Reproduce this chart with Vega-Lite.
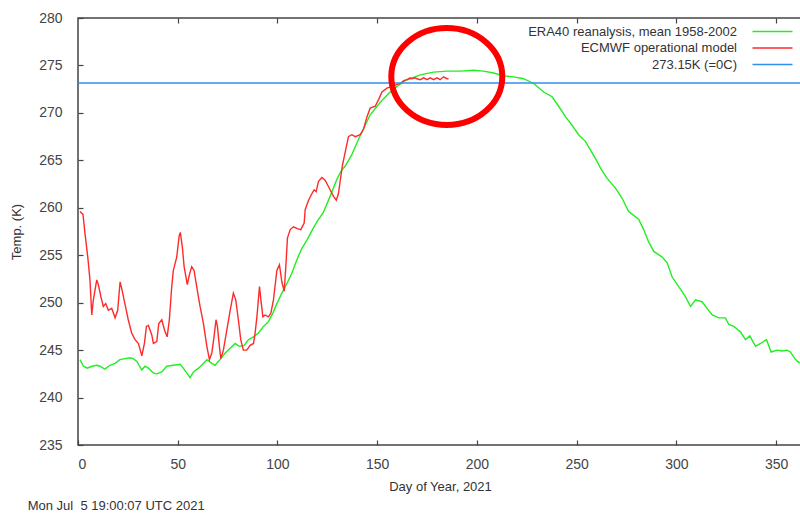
{
  "$schema": "https://vega.github.io/schema/vega-lite/v6.json",
  "width": 724,
  "height": 427,
  "autosize": {"type": "none"},
  "padding": {"left": 78, "top": 18, "right": 0, "bottom": 68},
  "background": "white",
  "title": {
    "text": "Mon Jul\u00a0 5 19:00:07 UTC 2021",
    "orient": "bottom",
    "anchor": "start",
    "frame": "bounds",
    "font": "Liberation Sans",
    "fontSize": 13,
    "fontWeight": "normal",
    "color": "#333",
    "offset": 7,
    "dx": 17
  },
  "config": {
    "font": "Liberation Sans",
    "view": {"stroke": "#444", "strokeWidth": 1.5},
    "axis": {
      "grid": false,
      "domainColor": "#444",
      "domainWidth": 1.5,
      "tickColor": "#444",
      "tickWidth": 1.2,
      "tickSize": -5,
      "labelColor": "#444",
      "labelFont": "Liberation Sans",
      "labelFontSize": 14,
      "titleColor": "#333",
      "titleFont": "Liberation Sans",
      "titleFontSize": 13,
      "titleFontWeight": "normal"
    }
  },
  "datasets": {
    "era": [
      {"d":1,"t":244.0},{"d":2.7,"t":243.3},{"d":4.7,"t":243.1},{"d":6.9,"t":243.3},{"d":9.4,"t":243.4},{"d":11,"t":243.3},{"d":13.5,"t":243.0},{"d":16,"t":243.4},{"d":18.6,"t":243.6},{"d":21,"t":244.0},{"d":23.6,"t":244.1},{"d":26,"t":244.2},{"d":27.7,"t":244.1},{"d":29.5,"t":243.8},{"d":32,"t":242.9},{"d":33.6,"t":243.3},{"d":35.3,"t":243.1},{"d":37.8,"t":242.6},{"d":39.5,"t":242.5},{"d":42,"t":242.7},{"d":44.5,"t":243.3},{"d":47.8,"t":243.4},{"d":51.2,"t":243.5},{"d":52.8,"t":243.1},{"d":54.5,"t":242.6},{"d":56.2,"t":242.1},{"d":57.9,"t":242.7},{"d":60.4,"t":243.1},{"d":62.9,"t":243.6},{"d":64.6,"t":244.0},{"d":67.1,"t":243.6},{"d":68.7,"t":243.4},{"d":71.2,"t":244.0},{"d":73.8,"t":244.7},{"d":76.3,"t":245.2},{"d":78.8,"t":245.7},{"d":80.9,"t":245.4},{"d":83.3,"t":245.5},{"d":85.4,"t":246.1},{"d":88,"t":246.4},{"d":90.5,"t":246.8},{"d":93,"t":247.5},{"d":95.5,"t":248.0},{"d":97.7,"t":248.9},{"d":99.7,"t":249.9},{"d":102.2,"t":251.0},{"d":104.7,"t":252.0},{"d":107.2,"t":253.1},{"d":109.7,"t":254.5},{"d":112.2,"t":255.7},{"d":114.8,"t":256.6},{"d":117.3,"t":257.6},{"d":120,"t":258.6},{"d":123,"t":259.5},{"d":126.4,"t":261.2},{"d":129.8,"t":263.0},{"d":132,"t":263.9},{"d":134,"t":264.4},{"d":137.3,"t":265.6},{"d":140.6,"t":267.2},{"d":144,"t":268.7},{"d":146.5,"t":269.8},{"d":149.9,"t":270.7},{"d":153.2,"t":271.5},{"d":156.5,"t":272.2},{"d":160.7,"t":272.9},{"d":164,"t":273.4},{"d":166.6,"t":273.6},{"d":171.6,"t":274.0},{"d":178.3,"t":274.3},{"d":185,"t":274.4},{"d":191.7,"t":274.4},{"d":198.3,"t":274.5},{"d":203.4,"t":274.4},{"d":208.4,"t":274.2},{"d":213.4,"t":273.9},{"d":218.4,"t":273.8},{"d":223.4,"t":273.6},{"d":228.5,"t":273.1},{"d":233.5,"t":272.2},{"d":237.7,"t":271.7},{"d":241,"t":270.7},{"d":244.4,"t":269.6},{"d":247.7,"t":268.7},{"d":251,"t":267.7},{"d":254.4,"t":267.0},{"d":256.9,"t":266.1},{"d":259.4,"t":265.2},{"d":261.9,"t":264.2},{"d":265.3,"t":263.1},{"d":269.4,"t":262.1},{"d":272.8,"t":261.0},{"d":276.1,"t":259.6},{"d":278.6,"t":259.2},{"d":281.1,"t":258.8},{"d":283.6,"t":257.7},{"d":286.1,"t":256.4},{"d":288.7,"t":255.4},{"d":292.9,"t":254.8},{"d":295.4,"t":254.2},{"d":297.9,"t":252.7},{"d":301.2,"t":251.7},{"d":304.6,"t":250.6},{"d":307.1,"t":249.6},{"d":309.6,"t":250.3},{"d":312.9,"t":250.1},{"d":315.4,"t":249.4},{"d":318,"t":248.7},{"d":321.3,"t":248.4},{"d":324.6,"t":248.4},{"d":326.3,"t":247.7},{"d":328.8,"t":247.5},{"d":332.2,"t":246.9},{"d":334.7,"t":246.1},{"d":336.8,"t":246.5},{"d":339.7,"t":245.4},{"d":342.2,"t":245.7},{"d":345.2,"t":246.1},{"d":347.5,"t":244.8},{"d":350.5,"t":245.0},{"d":353,"t":244.9},{"d":355.6,"t":245.0},{"d":357.2,"t":244.8},{"d":359.8,"t":244.0},{"d":361.4,"t":243.7},{"d":364,"t":243.7}
    ],
    "ecm": [
      {"d":1,"t":259.6},{"d":2.5,"t":259.3},{"d":3.5,"t":257.3},{"d":4.9,"t":254.8},{"d":6,"t":252.4},{"d":6.9,"t":248.7},{"d":7.7,"t":250.3},{"d":9.4,"t":252.4},{"d":10.2,"t":251.9},{"d":11.5,"t":250.6},{"d":12.7,"t":249.6},{"d":13.9,"t":249.9},{"d":15.2,"t":249.2},{"d":16.9,"t":249.4},{"d":18.6,"t":248.4},{"d":19.9,"t":249.2},{"d":21.1,"t":252.2},{"d":21.9,"t":251.5},{"d":23.6,"t":249.8},{"d":25.2,"t":248.2},{"d":26.9,"t":246.8},{"d":28.6,"t":246.1},{"d":30.3,"t":245.7},{"d":32,"t":244.4},{"d":33.3,"t":245.7},{"d":34.3,"t":247.5},{"d":35.3,"t":247.6},{"d":37,"t":246.6},{"d":37.8,"t":245.7},{"d":39.5,"t":245.9},{"d":40.5,"t":247.8},{"d":42,"t":248.2},{"d":43.4,"t":247.1},{"d":44.7,"t":246.4},{"d":45.8,"t":248.2},{"d":47,"t":251.7},{"d":47.8,"t":253.4},{"d":49.5,"t":254.8},{"d":50.7,"t":257.0},{"d":51.3,"t":257.4},{"d":52.3,"t":255.9},{"d":53.2,"t":253.8},{"d":54.8,"t":251.9},{"d":55.8,"t":252.9},{"d":57,"t":253.8},{"d":58.2,"t":253.4},{"d":59.5,"t":251.7},{"d":61.2,"t":249.6},{"d":62.9,"t":247.8},{"d":64.6,"t":245.4},{"d":65.9,"t":244.0},{"d":67.1,"t":244.7},{"d":68.2,"t":246.4},{"d":69.2,"t":248.2},{"d":69.9,"t":247.5},{"d":70.9,"t":245.4},{"d":71.6,"t":244.1},{"d":72.9,"t":245.0},{"d":74.6,"t":247.1},{"d":76.3,"t":249.2},{"d":77.9,"t":251.0},{"d":79.1,"t":250.3},{"d":80.4,"t":248.2},{"d":81.6,"t":246.1},{"d":82.9,"t":245.0},{"d":84.6,"t":245.0},{"d":86.3,"t":245.5},{"d":88,"t":245.7},{"d":88.8,"t":246.8},{"d":89.7,"t":248.5},{"d":91,"t":251.7},{"d":91.7,"t":250.3},{"d":92.7,"t":248.5},{"d":93.8,"t":248.7},{"d":95.5,"t":248.5},{"d":96.7,"t":248.9},{"d":98,"t":250.3},{"d":99.7,"t":253.4},{"d":101,"t":254.0},{"d":102.2,"t":252.2},{"d":103.4,"t":251.2},{"d":104.4,"t":254.5},{"d":105,"t":256.8},{"d":106.4,"t":257.7},{"d":108,"t":258.0},{"d":110,"t":257.8},{"d":111.7,"t":257.7},{"d":113.4,"t":258.4},{"d":113.9,"t":259.8},{"d":115.6,"t":260.8},{"d":117.3,"t":261.5},{"d":118.4,"t":261.9},{"d":119.4,"t":261.7},{"d":120.6,"t":262.8},{"d":122.3,"t":263.2},{"d":123.9,"t":262.9},{"d":126.4,"t":261.9},{"d":128.1,"t":261.2},{"d":129.5,"t":260.8},{"d":130.6,"t":261.5},{"d":131.5,"t":262.9},{"d":132.6,"t":264.5},{"d":134,"t":265.9},{"d":135.6,"t":267.5},{"d":137.3,"t":267.7},{"d":139,"t":267.5},{"d":141.5,"t":267.7},{"d":143.2,"t":268.3},{"d":144.9,"t":269.6},{"d":146.5,"t":270.5},{"d":149,"t":270.7},{"d":150.7,"t":271.4},{"d":152.4,"t":272.2},{"d":154.9,"t":272.6},{"d":157.4,"t":272.8},{"d":160,"t":273.0},{"d":161.6,"t":273.1},{"d":163.3,"t":273.4},{"d":164.9,"t":273.5},{"d":166.6,"t":273.7},{"d":167.4,"t":273.6},{"d":169,"t":273.7},{"d":169.9,"t":273.6},{"d":171.6,"t":273.5},{"d":173.3,"t":273.7},{"d":175,"t":273.5},{"d":176.6,"t":273.7},{"d":178.3,"t":273.5},{"d":180,"t":273.7},{"d":181.6,"t":273.5},{"d":183.3,"t":273.8},{"d":185,"t":273.6},{"d":185.8,"t":273.6}
    ],
    "zero": [{"k": 273.15}],
    "mark": [{"d": 184.9, "t": 273.84}]
  },
  "layer": [
    {
      "data": {"name": "era"},
      "mark": {"type": "line", "strokeWidth": 1.4, "clip": true},
      "encoding": {
        "x": {
          "field": "d", "type": "quantitative",
          "scale": {"domain": [0, 363], "nice": false, "zero": false},
          "axis": {"orient": "bottom", "values": [0,50,100,150,200,250,300,350], "title": "Day of Year, 2021", "titlePadding": 9, "labelPadding": 17, "domain": false}
        },
        "y": {
          "field": "t", "type": "quantitative",
          "scale": {"domain": [235, 280], "nice": false, "zero": false},
          "axis": {"values": [235,240,245,250,255,260,265,270,275,280], "title": "Temp. (K)", "titlePadding": 15, "labelPadding": 21, "domain": false}
        },
        "color": {
          "datum": "ERA40 reanalysis, mean 1958-2002",
          "type": "nominal",
          "scale": {
            "domain": ["ERA40 reanalysis, mean 1958-2002", "ECMWF operational model", "273.15K (=0C)"],
            "range": ["#22ee22", "#ff2a2a", "#2f8fef"]
          },
          "legend": {
            "title": null,
            "orient": "none",
            "legendX": 688,
            "legendY": 7,
            "padding": 0,
            "symbolType": "M-4,0L4,0",
            "symbolSize": 100,
            "symbolStrokeWidth": 1.5,
            "labelAlign": "right",
            "labelOffset": -42,
            "labelLimit": 400,
            "labelFont": "Liberation Sans",
            "labelFontSize": 13,
            "labelColor": "#333",
            "rowPadding": 2.5
          }
        }
      }
    },
    {
      "data": {"name": "ecm"},
      "mark": {"type": "line", "strokeWidth": 1.4, "clip": true},
      "encoding": {
        "x": {
          "field": "d", "type": "quantitative",
          "axis": {"orient": "top", "values": [50,100,150,200,250,300,350], "labels": false, "title": null, "domain": false}
        },
        "y": {"field": "t", "type": "quantitative"},
        "color": {"datum": "ECMWF operational model", "type": "nominal"}
      }
    },
    {
      "data": {"name": "zero"},
      "mark": {"type": "rule", "strokeWidth": 1.5},
      "encoding": {
        "y": {"field": "k", "type": "quantitative"},
        "color": {"datum": "273.15K (=0C)", "type": "nominal"}
      }
    },
    {
      "data": {"name": "mark"},
      "mark": {
        "type": "point",
        "filled": false,
        "shape": "M-1,0 A1,0.874 0 1,0 1,0 A1,0.874 0 1,0 -1,0 Z",
        "size": 12321,
        "stroke": "#ff0000",
        "strokeWidth": 6,
        "opacity": 1
      },
      "encoding": {
        "x": {"field": "d", "type": "quantitative", "axis": null},
        "y": {"field": "t", "type": "quantitative"}
      }
    }
  ],
  "resolve": {"axis": {"x": "independent"}}
}
